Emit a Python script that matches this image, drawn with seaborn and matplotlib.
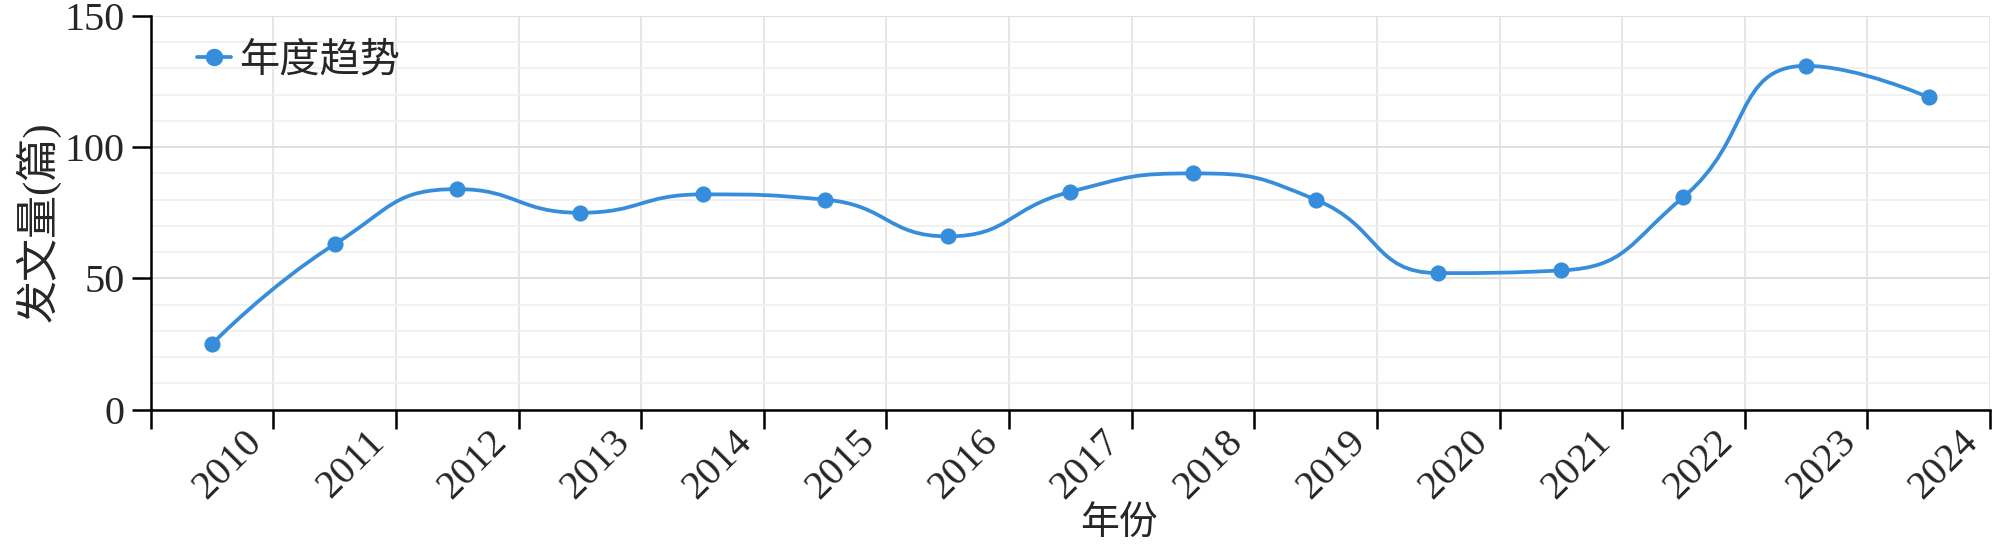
"""
Annual publication trend (2010-2024) - smoothed line chart
"""
import numpy as np
import pandas as pd
import matplotlib.pyplot as plt
import seaborn as sns
from matplotlib.path import Path
from matplotlib.patches import PathPatch
from matplotlib.lines import Line2D
from matplotlib.transforms import ScaledTranslation
from matplotlib.ticker import FixedLocator, MultipleLocator

# ---------------------------------------------------------
# DATA
# ---------------------------------------------------------
years = ["2010", "2011", "2012", "2013", "2014", "2015", "2016", "2017",
         "2018", "2019", "2020", "2021", "2022", "2023", "2024"]
counts = [25, 63, 84, 75, 82, 80, 66, 83, 90, 80, 52, 53, 81, 131, 119]
y_ticks = [0, 50, 100, 150]

series_name = "年度趋势"
x_title = "年份"
y_title = "发文量(篇)"

df = pd.DataFrame({"year": years, "count": counts})
df["pos"] = np.arange(len(df))

# ---------------------------------------------------------
# STYLE
# ---------------------------------------------------------
sns.set_style("white")
plt.rcParams["font.family"] = ["Liberation Serif", "Noto Sans CJK SC"]
plt.rcParams["axes.unicode_minus"] = False

blue = "#368ddb"
fs = 29

W, H = 2000, 545
left, right, top, bottom = 150.8, 1990, 16, 409.5
fig = plt.figure(figsize=(W / 100, H / 100), dpi=100)
ax = fig.add_axes([left / W, (H - bottom) / H, (right - left) / W, (bottom - top) / H])


def smooth_path(xs, ys, sx, sy, smooth=0.5):
    # echarts-style bezier smoothing, computed in pixel space
    px = np.asarray(xs, float) * sx
    py = np.asarray(ys, float) * sy
    n = len(px)
    cp_out = [None] * n
    cp_in = [None] * n
    cp_out[0] = (px[0], py[0])
    cp_in[-1] = (px[-1], py[-1])
    for i in range(1, n - 1):
        x0, y0, x1, y1, x2, y2 = px[i - 1], py[i - 1], px[i], py[i], px[i + 1], py[i + 1]
        vx, vy = x2 - x0, y2 - y0
        l0 = np.hypot(x1 - x0, y1 - y0)
        l1 = np.hypot(x2 - x1, y2 - y1)
        r = l1 / (l0 + l1)
        nx = np.clip(x1 + vx * smooth * r, min(x1, x2), max(x1, x2))
        ny = np.clip(y1 + vy * smooth * r, min(y1, y2), max(y1, y2))
        vx, vy = nx - x1, ny - y1
        bx = np.clip(x1 - vx * l0 / l1, min(x0, x1), max(x0, x1))
        by = np.clip(y1 - vy * l0 / l1, min(y0, y1), max(y0, y1))
        vx, vy = x1 - bx, y1 - by
        nx, ny = x1 + vx * l1 / l0, y1 + vy * l1 / l0
        cp_in[i] = (bx, by)
        cp_out[i] = (nx, ny)
    verts = [(px[0], py[0])]
    codes = [Path.MOVETO]
    for i in range(1, n):
        verts += [cp_out[i - 1], cp_in[i], (px[i], py[i])]
        codes += [Path.CURVE4] * 3
    verts = np.array(verts)
    verts[:, 0] /= sx
    verts[:, 1] /= sy
    return Path(verts, codes)


# ---------------------------------------------------------
# PLOT
# ---------------------------------------------------------
ax.set_xlim(-0.5, len(years) - 0.5)
ax.set_ylim(y_ticks[0], y_ticks[-1])

sx = (right - left) / len(years)
sy = (bottom - top) / (y_ticks[-1] - y_ticks[0])
curve = smooth_path(df["pos"], df["count"], sx, sy)
ax.add_patch(PathPatch(curve, facecolor="none", edgecolor=blue, lw=2.7,
                       capstyle="round", joinstyle="round", zorder=3))
sns.scatterplot(data=df, x="pos", y="count", ax=ax, color=blue, s=135,
                linewidth=0, zorder=4, legend=False)

# grid
ax.yaxis.set_major_locator(FixedLocator(y_ticks))
ax.yaxis.set_minor_locator(MultipleLocator(10))
ax.xaxis.set_major_locator(FixedLocator(df["pos"].tolist()))
ax.xaxis.set_minor_locator(FixedLocator(list(np.arange(len(years) + 1) - 0.5)))
ax.grid(False)
ax.grid(True, axis="y", which="major", color="#e0e0e0", lw=1.4, zorder=0)
ax.grid(True, axis="y", which="minor", color="#efefef", lw=1.2, zorder=0)
ax.grid(True, axis="x", which="minor", color="#e6e6e6", lw=1.4, zorder=0)
ax.set_axisbelow(True)

# spines and ticks
for s in ["top", "right"]:
    ax.spines[s].set_visible(False)
for s in ["left", "bottom"]:
    ax.spines[s].set_color("black")
    ax.spines[s].set_linewidth(1.8)
ax.tick_params(axis="y", which="major", length=14, width=1.8, color="black",
               labelsize=fs, pad=5, direction="out", left=True)
ax.tick_params(axis="y", which="minor", length=0)
ax.tick_params(axis="x", which="major", length=0, labelsize=fs, pad=10)
ax.tick_params(axis="x", which="minor", length=14, width=1.8, color="black",
               direction="out", bottom=True)

ax.set_xticklabels(years)
offset = ScaledTranslation(0.31, 0, fig.dpi_scale_trans)
for lab in ax.get_xticklabels():
    lab.set_rotation(45)
    lab.set_ha("right")
    lab.set_va("top")
    lab.set_rotation_mode("anchor")
    lab.set_transform(lab.get_transform() + offset)

ax.set_xlabel(x_title, fontsize=28, va="center")
ax.xaxis.set_label_coords((1119 - left) / (right - left), (bottom - 524) / (bottom - top))
ax.set_ylabel(y_title, fontsize=31, va="center")
ax.yaxis.set_label_coords((38 - left) / (right - left), (bottom - 222) / (bottom - top))

handle = Line2D([0], [0], color=blue, lw=2.7, marker="o", markersize=11.5)
ax.legend([handle], [series_name], loc="upper left", frameon=False,
          bbox_to_anchor=((197 - left) / (right - left), (bottom - 43) / (bottom - top)),
          fontsize=fs, handlelength=0.85, handletextpad=0.2, borderpad=0,
          borderaxespad=0)

fig.savefig("out.png", dpi=100)
plt.close(fig)
